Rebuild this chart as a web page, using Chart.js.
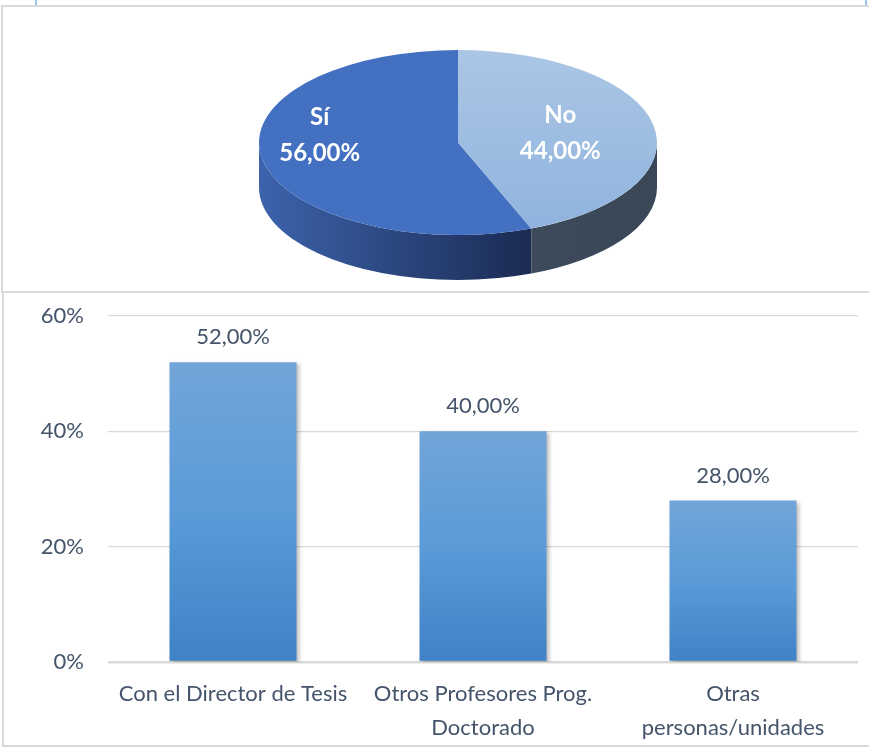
<!DOCTYPE html>
<html>
<head>
<meta charset="utf-8">
<script src="https://cdn.jsdelivr.net/npm/chart.js@4.4.1/dist/chart.umd.min.js"></script>
<style>
  html,body{margin:0;padding:0;background:#fff;}
  #wrap{position:relative;width:869px;height:747px;overflow:hidden;background:#fff;}
  canvas{position:absolute;left:0;}
  .ln{position:absolute;background:#d9d9d9;}
  .bl{position:absolute;background:#9dc3e6;}
</style>
</head>
<body>
<div id="wrap">
  <canvas id="pie" width="869" height="286" style="top:6px"></canvas>
  <canvas id="bar" width="869" height="454" style="top:292px"></canvas>
  <div class="bl" style="left:35px;top:0;width:2px;height:6px"></div>
  <div class="bl" style="left:865px;top:0;width:2px;height:6px"></div>
  <div class="ln" style="left:1px;top:5px;width:868px;height:2px"></div>
  <div class="ln" style="left:1px;top:5px;width:2px;height:288px"></div>
  <div class="ln" style="left:1px;top:291px;width:868px;height:2px"></div>
  <div class="ln" style="left:2px;top:291px;width:2px;height:456px"></div>
  <div class="ln" style="left:2px;top:745px;width:867px;height:2px"></div>
</div>
<script>
// ---------- DATA ----------
const pieLabels = ['Sí', 'No'];
const pieValues = [56, 44];
const barCategories = [['Con el Director de Tesis'], ['Otros Profesores Prog.', 'Doctorado'], ['Otras', 'personas/unidades']];
const barValues = [52, 40, 28];
const yTicks = [0, 20, 40, 60];

// ---------- helpers ----------
const fmt = v => v.toFixed(2).replace('.', ',') + '%';
const TEXT = '#44546a';
const FONT = 'Lato';

// ---------- 3D PIE ----------
const P = { cx: 458, cy: 136.5, rx: 199, ry: 92.5, depth: 45 };
const topColors = ['#4370c0', null];
const sideColors = [['#3c63ac', '#1b2b52'], ['#3d4a5b', '#3a4757']];
const labelNudge = [[-21, -18], [-15, 1]];

function visibleRanges(s, e) {
  const out = [];
  for (let k = -2; k <= 2; k++) {
    const a = Math.max(s, k * 2 * Math.PI), b = Math.min(e, k * 2 * Math.PI + Math.PI);
    if (b > a) out.push([a - k * 2 * Math.PI, b - k * 2 * Math.PI]);
  }
  return out;
}

const pie3d = {
  id: 'pie3d',
  beforeDatasetsDraw(chart) {
    const ctx = chart.ctx;
    const meta = chart.getDatasetMeta(0);
    meta.data.forEach((arc, i) => {
      visibleRanges(arc.startAngle, arc.endAngle).forEach(([a, b]) => {
        ctx.save();
        ctx.beginPath();
        ctx.ellipse(P.cx, P.cy, P.rx, P.ry, 0, a, b, false);
        ctx.lineTo(P.cx + P.rx * Math.cos(b), P.cy + P.depth + P.ry * Math.sin(b));
        ctx.ellipse(P.cx, P.cy + P.depth, P.rx, P.ry, 0, b, a, true);
        ctx.closePath();
        const x0 = P.cx + P.rx * Math.cos(b), x1 = P.cx + P.rx * Math.cos(a);
        const g = ctx.createLinearGradient(Math.min(x0, x1), 0, Math.max(x0, x1), 0);
        g.addColorStop(0, sideColors[i][0]);
        g.addColorStop(1, sideColors[i][1]);
        ctx.fillStyle = g;
        ctx.fill();
        ctx.restore();
      });
    });
    const a0 = meta.data[0];
    const R = a0.outerRadius;
    ctx.save();
    ctx.translate(P.cx, P.cy);
    ctx.scale(P.rx / R, P.ry / R);
    ctx.translate(-a0.x, -a0.y);
  },
  afterDatasetsDraw(chart) {
    const ctx = chart.ctx;
    ctx.restore();
    const meta = chart.getDatasetMeta(0);
    ctx.save();
    ctx.fillStyle = '#ffffff';
    ctx.font = 'bold 24px ' + FONT;
    ctx.textAlign = 'center';
    ctx.textBaseline = 'middle';
    meta.data.forEach((arc, i) => {
      const mid = (arc.startAngle + arc.endAngle) / 2;
      const x = P.cx + Math.cos(mid) * P.rx * 0.6 + labelNudge[i][0];
      const y = P.cy + Math.sin(mid) * P.ry * 0.6 + labelNudge[i][1];
      ctx.fillText(pieLabels[i], x, y - 18);
      ctx.fillText(fmt(pieValues[i]), x, y + 18);
    });
    ctx.restore();
  }
};

const pieTotal = pieValues.reduce((a, b) => a + b, 0);
new Chart(document.getElementById('pie'), {
  type: 'pie',
  data: {
    labels: pieLabels,
    datasets: [{
      data: pieValues,
      borderWidth: 0,
      clip: false,
      backgroundColor(c) {
        const ch = c.chart, area = ch.chartArea;
        if (!area) return '#4370c0';
        if (c.dataIndex === 0) return topColors[0];
        const cy = (area.top + area.bottom) / 2, r = Math.min(area.width, area.height) / 2;
        const g = ch.ctx.createLinearGradient(0, cy - r, 0, cy + r);
        g.addColorStop(0, '#abc6e5');
        g.addColorStop(1, '#8fb3de');
        return g;
      }
    }]
  },
  options: {
    responsive: false,
    animation: false,
    rotation: pieValues[1] / pieTotal * 360,
    layout: { padding: 0 },
    plugins: { legend: { display: false }, tooltip: { enabled: false } }
  },
  plugins: [pie3d]
});

// ---------- BAR ----------
const barLabels = {
  id: 'barLabels',
  beforeDatasetDraw(chart) {
    const ctx = chart.ctx;
    ctx.save();
    ctx.shadowColor = 'rgba(0,0,0,0.28)';
    ctx.shadowBlur = 4;
    ctx.shadowOffsetX = 2;
    ctx.shadowOffsetY = 2;
  },
  afterDatasetDraw(chart) { chart.ctx.restore(); },
  afterDatasetsDraw(chart) {
    const ctx = chart.ctx;
    const meta = chart.getDatasetMeta(0);
    ctx.save();
    ctx.fillStyle = TEXT;
    ctx.font = '22px ' + FONT;
    ctx.textAlign = 'center';
    ctx.textBaseline = 'middle';
    meta.data.forEach((bar, i) => {
      ctx.fillText(fmt(barValues[i]), bar.x, bar.y - 25);
    });
    ctx.restore();
  }
};

new Chart(document.getElementById('bar'), {
  type: 'bar',
  data: {
    labels: barCategories,
    datasets: [{
      data: barValues,
      borderWidth: 0,
      barPercentage: 0.508,
      categoryPercentage: 1,
      backgroundColor(c) {
        const ch = c.chart;
        const y = ch.scales && ch.scales.y;
        if (!ch.chartArea || !y) return '#5b9bd5';
        const top = y.getPixelForValue(barValues[c.dataIndex]);
        const bot = y.getPixelForValue(0);
        const g = ch.ctx.createLinearGradient(0, top, 0, bot);
        g.addColorStop(0, '#72a5d9');
        g.addColorStop(0.5, '#5a9bd8');
        g.addColorStop(1, '#3f82c5');
        return g;
      }
    }]
  },
  options: {
    responsive: false,
    animation: false,
    layout: { padding: { left: 0, right: 11, top: 24, bottom: 0 } },
    plugins: { legend: { display: false }, tooltip: { enabled: false } },
    scales: {
      x: {
        grid: { display: false },
        border: { display: false },
        ticks: {
          color: TEXT,
          font: { family: FONT, size: 22, lineHeight: 1.55 },
          padding: 7,
          maxRotation: 0,
          autoSkip: false
        },
        afterFit(s) { s.height = 84; s.paddingLeft = 0; s.paddingRight = 0; }
      },
      y: {
        min: yTicks[0],
        max: yTicks[yTicks.length - 1],
        afterBuildTicks(s) { s.ticks = yTicks.map(v => ({ value: v })); },
        border: { display: false },
        grid: {
          color: '#d9d9d9',
          lineWidth: c => (c.tick && c.tick.value === 0 ? 2.5 : 1.2),
          drawTicks: false
        },
        ticks: {
          color: TEXT,
          font: { family: FONT, size: 22 },
          padding: 24,
          callback: v => v + '%'
        },
        afterFit(s) { s.width = 108; s.paddingTop = 0; s.paddingBottom = 0; }
      }
    }
  },
  plugins: [barLabels]
});
</script>
</body>
</html>
